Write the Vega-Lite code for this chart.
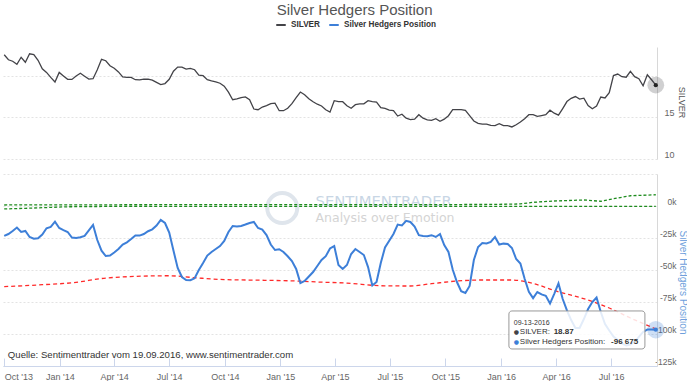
{
  "$schema": "https://vega.github.io/schema/vega-lite/v6.json",
  "background": "white",
  "padding": {"top": 3, "left": 0, "right": 0, "bottom": 0},
  "autosize": {"type": "pad"},
  "bounds": "flush",
  "title": {"text": "Silver Hedgers Position", "fontSize": 15, "font": "Liberation Sans", "fontWeight": "normal", "color": "#555555", "anchor": "middle", "frame": "bounds", "dx": 11, "offset": 1},
  "config": {
    "view": {"stroke": null},
    "font": "Liberation Sans",
    "axis": {"labelFont": "Liberation Sans", "titleFont": "Liberation Sans", "labelOverlap": false},
    "legend": {"labelFont": "Liberation Sans"}
  },
  "spacing": 15,
  "resolve": {"scale": {"color": "shared"}, "legend": {"color": "shared"}},
  "datasets": {
    "main": [
      {"d":"2013-10-01","s":22.52,"h":-23400},{"d":"2013-10-08","s":21.92,"h":-21900},{"d":"2013-10-15","s":21.74,"h":-19500},{"d":"2013-10-22","s":21.38,"h":-16800},{"d":"2013-10-29","s":22.22,"h":-20300},{"d":"2013-11-05","s":21.62,"h":-19500},{"d":"2013-11-12","s":22.64,"h":-24200},{"d":"2013-11-19","s":22.55,"h":-25500},{"d":"2013-11-26","s":21.86,"h":-25200},{"d":"2013-12-03","s":20.84,"h":-22300},{"d":"2013-12-10","s":20.40,"h":-17400},{"d":"2013-12-17","s":19.80,"h":-16400},{"d":"2013-12-24","s":19.24,"h":-12300},{"d":"2013-12-31","s":20.40,"h":-17200},
      {"d":"2014-01-07","s":19.98,"h":-18800},{"d":"2014-01-14","s":19.57,"h":-20300},{"d":"2014-01-21","s":19.56,"h":-24600},{"d":"2014-01-28","s":19.96,"h":-25000},{"d":"2014-02-04","s":20.29,"h":-24400},{"d":"2014-02-11","s":19.94,"h":-23300},{"d":"2014-02-18","s":19.60,"h":-19100},{"d":"2014-02-25","s":19.64,"h":-14800},{"d":"2014-03-04","s":20.72,"h":-26600},{"d":"2014-03-11","s":21.97,"h":-34900},{"d":"2014-03-18","s":21.80,"h":-39100},{"d":"2014-03-25","s":21.20,"h":-38700},{"d":"2014-04-01","s":20.89,"h":-36300},{"d":"2014-04-08","s":20.46,"h":-33600},{"d":"2014-04-15","s":19.86,"h":-30100},{"d":"2014-04-22","s":19.81,"h":-28400},{"d":"2014-04-29","s":19.80,"h":-25800},{"d":"2014-05-06","s":19.52,"h":-23000},{"d":"2014-05-13","s":19.51,"h":-23100},{"d":"2014-05-20","s":19.58,"h":-21900},{"d":"2014-05-27","s":19.60,"h":-19700},{"d":"2014-06-03","s":19.47,"h":-18200},{"d":"2014-06-10","s":19.20,"h":-15300},{"d":"2014-06-17","s":18.94,"h":-10900},{"d":"2014-06-24","s":19.06,"h":-13300},{"d":"2014-07-01","s":19.57,"h":-20700},{"d":"2014-07-08","s":20.54,"h":-34800},{"d":"2014-07-15","s":21.03,"h":-48400},{"d":"2014-07-22","s":21.04,"h":-55500},{"d":"2014-07-29","s":20.80,"h":-57800},{"d":"2014-08-05","s":20.88,"h":-58000},{"d":"2014-08-12","s":20.72,"h":-56500},{"d":"2014-08-19","s":20.07,"h":-50000},{"d":"2014-08-26","s":20.00,"h":-44500},{"d":"2014-09-02","s":19.52,"h":-38700},{"d":"2014-09-09","s":19.38,"h":-35900},{"d":"2014-09-16","s":19.26,"h":-33600},{"d":"2014-09-23","s":19.10,"h":-31300},{"d":"2014-09-30","s":18.75,"h":-27300},{"d":"2014-10-07","s":18.02,"h":-20300},{"d":"2014-10-14","s":17.12,"h":-15600},{"d":"2014-10-21","s":17.21,"h":-16000},{"d":"2014-10-28","s":17.38,"h":-15600},{"d":"2014-11-04","s":17.45,"h":-14500},{"d":"2014-11-11","s":17.12,"h":-13300},{"d":"2014-11-18","s":16.00,"h":-12500},{"d":"2014-11-25","s":15.92,"h":-17200},{"d":"2014-12-02","s":16.24,"h":-18400},{"d":"2014-12-09","s":16.40,"h":-22700},{"d":"2014-12-16","s":16.64,"h":-30100},{"d":"2014-12-23","s":16.70,"h":-34400},{"d":"2014-12-30","s":15.80,"h":-33800},
      {"d":"2015-01-06","s":15.80,"h":-35900},{"d":"2015-01-13","s":16.10,"h":-39300},{"d":"2015-01-20","s":16.64,"h":-43000},{"d":"2015-01-27","s":17.36,"h":-49200},{"d":"2015-02-03","s":18.04,"h":-60200},{"d":"2015-02-10","s":17.72,"h":-58600},{"d":"2015-02-17","s":17.24,"h":-55100},{"d":"2015-02-24","s":16.88,"h":-51600},{"d":"2015-03-03","s":16.58,"h":-46900},{"d":"2015-03-10","s":16.37,"h":-42200},{"d":"2015-03-17","s":15.92,"h":-39200},{"d":"2015-03-24","s":15.63,"h":-33200},{"d":"2015-03-31","s":17.00,"h":-31300},{"d":"2015-04-07","s":16.88,"h":-46100},{"d":"2015-04-14","s":16.88,"h":-49200},{"d":"2015-04-21","s":16.40,"h":-46100},{"d":"2015-04-28","s":16.10,"h":-37500},{"d":"2015-05-05","s":16.52,"h":-33600},{"d":"2015-05-12","s":16.61,"h":-35900},{"d":"2015-05-19","s":16.63,"h":-38300},{"d":"2015-05-26","s":17.00,"h":-47700},{"d":"2015-06-02","s":16.88,"h":-62100},{"d":"2015-06-09","s":16.84,"h":-59400},{"d":"2015-06-16","s":16.16,"h":-44500},{"d":"2015-06-23","s":16.07,"h":-32400},{"d":"2015-06-30","s":15.88,"h":-27100},{"d":"2015-07-07","s":15.80,"h":-21900},{"d":"2015-07-14","s":15.16,"h":-14500},{"d":"2015-07-21","s":15.38,"h":-15200},{"d":"2015-07-28","s":14.90,"h":-11600},{"d":"2015-08-04","s":14.72,"h":-12500},{"d":"2015-08-11","s":14.78,"h":-16000},{"d":"2015-08-18","s":15.32,"h":-22800},{"d":"2015-08-25","s":14.90,"h":-23400},{"d":"2015-09-01","s":14.70,"h":-23600},{"d":"2015-09-08","s":14.64,"h":-22800},{"d":"2015-09-15","s":14.84,"h":-24200},{"d":"2015-09-22","s":14.52,"h":-21900},{"d":"2015-09-29","s":14.78,"h":-30500},{"d":"2015-10-06","s":15.20,"h":-35900},{"d":"2015-10-13","s":15.92,"h":-49600},{"d":"2015-10-20","s":15.92,"h":-59400},{"d":"2015-10-27","s":15.92,"h":-66600},{"d":"2015-11-03","s":15.83,"h":-68000},{"d":"2015-11-10","s":15.20,"h":-62500},{"d":"2015-11-17","s":14.56,"h":-42200},{"d":"2015-11-24","s":14.28,"h":-32000},{"d":"2015-12-01","s":14.20,"h":-28900},{"d":"2015-12-08","s":14.20,"h":-29300},{"d":"2015-12-15","s":14.03,"h":-28100},{"d":"2015-12-22","s":14.02,"h":-24200},{"d":"2015-12-29","s":14.24,"h":-30100},
      {"d":"2016-01-05","s":14.00,"h":-29400},{"d":"2016-01-12","s":14.00,"h":-29700},{"d":"2016-01-19","s":13.85,"h":-32800},{"d":"2016-01-26","s":14.11,"h":-41400},{"d":"2016-02-02","s":14.44,"h":-44900},{"d":"2016-02-09","s":14.84,"h":-56800},{"d":"2016-02-16","s":15.32,"h":-67000},{"d":"2016-02-23","s":15.32,"h":-72000},{"d":"2016-03-01","s":15.12,"h":-67200},{"d":"2016-03-08","s":15.22,"h":-69100},{"d":"2016-03-15","s":15.32,"h":-70200},{"d":"2016-03-22","s":15.86,"h":-76200},{"d":"2016-03-29","s":15.50,"h":-68600},{"d":"2016-04-05","s":15.26,"h":-60500},{"d":"2016-04-12","s":16.06,"h":-72700},{"d":"2016-04-19","s":16.90,"h":-81600},{"d":"2016-04-26","s":17.29,"h":-89100},{"d":"2016-05-03","s":17.50,"h":-95300},{"d":"2016-05-10","s":17.20,"h":-95300},{"d":"2016-05-17","s":17.30,"h":-88300},{"d":"2016-05-24","s":16.42,"h":-80500},{"d":"2016-05-31","s":16.04,"h":-75000},{"d":"2016-06-07","s":16.37,"h":-71500},{"d":"2016-06-14","s":17.44,"h":-82800},{"d":"2016-06-21","s":17.33,"h":-92200},{"d":"2016-06-28","s":17.96,"h":-97300},{"d":"2016-07-05","s":20.02,"h":-102000},{"d":"2016-07-12","s":20.20,"h":-104700},{"d":"2016-07-19","s":19.88,"h":-107400},{"d":"2016-07-26","s":19.82,"h":-109000},{"d":"2016-08-02","s":20.53,"h":-108200},{"d":"2016-08-09","s":19.89,"h":-105900},{"d":"2016-08-16","s":19.64,"h":-102300},{"d":"2016-08-23","s":18.80,"h":-98400},{"d":"2016-08-30","s":20.12,"h":-96500},{"d":"2016-09-06","s":19.52,"h":-96500},{"d":"2016-09-13","s":18.87,"h":-96675}
    ],
    "ref": [
      {"d":"2013-10-01","k":"red","v":-63000},{"d":"2013-12-03","k":"red","v":-61500},{"d":"2014-01-21","k":"red","v":-60000},{"d":"2014-03-18","k":"red","v":-56300},{"d":"2014-05-06","k":"red","v":-55000},{"d":"2014-07-01","k":"red","v":-54500},{"d":"2014-08-12","k":"red","v":-56000},{"d":"2014-09-30","k":"red","v":-57500},{"d":"2014-12-02","k":"red","v":-58000},{"d":"2015-01-27","k":"red","v":-58600},{"d":"2015-03-10","k":"red","v":-59500},{"d":"2015-04-21","k":"red","v":-60200},{"d":"2015-06-16","k":"red","v":-62300},{"d":"2015-08-04","k":"red","v":-62500},{"d":"2015-09-08","k":"red","v":-60700},{"d":"2015-10-20","k":"red","v":-58600},{"d":"2015-12-01","k":"red","v":-57800},{"d":"2016-01-19","k":"red","v":-57800},{"d":"2016-02-23","k":"red","v":-60500},{"d":"2016-03-29","k":"red","v":-66000},{"d":"2016-05-24","k":"red","v":-73500},{"d":"2016-06-28","k":"red","v":-79700},{"d":"2016-08-02","k":"red","v":-87500},{"d":"2016-09-13","k":"red","v":-96000},
      {"d":"2013-10-01","k":"g1","v":800},{"d":"2014-06-03","k":"g1","v":1000},{"d":"2015-06-02","k":"g1","v":1000},{"d":"2015-12-15","k":"g1","v":1200},{"d":"2016-02-02","k":"g1","v":1600},{"d":"2016-02-23","k":"g1","v":2900},{"d":"2016-03-29","k":"g1","v":3900},{"d":"2016-05-17","k":"g1","v":4700},{"d":"2016-06-14","k":"g1","v":3700},{"d":"2016-07-12","k":"g1","v":6300},{"d":"2016-08-02","k":"g1","v":8000},{"d":"2016-09-13","k":"g1","v":8800},
      {"d":"2013-10-01","k":"g2","v":-2300},{"d":"2013-11-05","k":"g2","v":-1800},{"d":"2013-12-10","k":"g2","v":-1200},{"d":"2014-01-14","k":"g2","v":-600},{"d":"2014-03-25","k":"g2","v":-300},{"d":"2016-09-13","k":"g2","v":-300}
    ]
  },
  "vconcat": [
    {
      "width": 654,
      "height": 112,
      "layer": [
        {
          "data": {"name": "main"},
          "mark": {"type": "line", "strokeWidth": 1.3},
          "encoding": {
            "x": {"field": "d", "type": "temporal", "scale": {"type": "utc", "domain": [{"year": 2013, "month": 9, "date": 29, "utc": true}, {"year": 2016, "month": 9, "date": 15, "utc": true}]}, "axis": null},
            "y": {"field": "s", "type": "quantitative", "scale": {"domain": [10, 23.45], "nice": false, "zero": false},
              "axis": {"orient": "right", "values": [10, 15, 20], "tickCount": 10, "labelExpr": "datum.value == 20 ? '' : datum.label", "labelOverlap": false, "title": "SILVER", "titleFontSize": 9, "titleFontWeight": "normal", "titleColor": "#555555", "titleBaseline": "middle", "titleAngle": 90, "titleX": 24, "titleY": 55, "labelAlign": "right", "labelBaseline": "alphabetic", "labelOffset": -1.5, "labelPadding": 17, "labelFontSize": 9, "labelColor": "#666666", "ticks": false, "domain": true, "domainColor": "#d8d8d8", "grid": true, "gridColor": "#e3e3e3", "gridDash": [2, 2]}},
            "color": {"datum": "SILVER", "scale": {"domain": ["SILVER", "Silver Hedgers Position"], "range": ["#434348", "#3d7fd8"]},
              "legend": {"orient": "none", "legendX": 272, "legendY": -28, "direction": "horizontal", "title": null, "symbolType": "stroke", "symbolStrokeWidth": 2, "symbolSize": 90, "labelFontSize": 8.2, "labelFontWeight": "bold", "labelColor": "#333333", "labelOffset": 4, "columnPadding": 5}}
          }
        },
        {
          "data": {"name": "main"},
          "transform": [{"filter": "datum.h == -96675"}],
          "mark": {"type": "point", "filled": true, "size": 280, "color": "#434348", "opacity": 0.25},
          "encoding": {"x": {"field": "d", "type": "temporal"}, "y": {"field": "s", "type": "quantitative"}}
        },
        {
          "data": {"name": "main"},
          "transform": [{"filter": "datum.h == -96675"}],
          "mark": {"type": "point", "filled": true, "size": 18, "color": "#222222", "opacity": 1},
          "encoding": {"x": {"field": "d", "type": "temporal"}, "y": {"field": "s", "type": "quantitative"}}
        }
      ]
    },
    {
      "width": 654,
      "height": 192,
      "layer": [
        {
          "data": {"name": "main"},
          "mark": {"type": "line", "strokeWidth": 0, "opacity": 0},
          "encoding": {
            "x": {"field": "d", "type": "temporal", "scale": {"type": "utc", "domain": [{"year": 2013, "month": 9, "date": 29, "utc": true}, {"year": 2016, "month": 9, "date": 15, "utc": true}]},
              "axis": {"orient": "bottom", "title": null, "tickCount": 20, "values": [{"year": 2013, "month": 10, "date": 1, "utc": true}, {"year": 2014, "month": 1, "date": 1, "utc": true}, {"year": 2014, "month": 4, "date": 1, "utc": true}, {"year": 2014, "month": 7, "date": 1, "utc": true}, {"year": 2014, "month": 10, "date": 1, "utc": true}, {"year": 2015, "month": 1, "date": 1, "utc": true}, {"year": 2015, "month": 4, "date": 1, "utc": true}, {"year": 2015, "month": 7, "date": 1, "utc": true}, {"year": 2015, "month": 10, "date": 1, "utc": true}, {"year": 2016, "month": 1, "date": 1, "utc": true}, {"year": 2016, "month": 4, "date": 1, "utc": true}, {"year": 2016, "month": 7, "date": 1, "utc": true}],
                "format": "%b '%y", "labelFontSize": 9, "labelColor": "#666666", "labelFlush": 5, "labelOverlap": false, "tickColor": "#ccd6eb", "tickSize": -8, "labelPadding": 14, "domainColor": "#ccd6eb", "grid": false}},
            "y": {"field": "h", "type": "quantitative", "scale": {"domain": [-125000, 25000], "nice": false, "zero": false},
              "axis": {"orient": "right", "values": [-125000, -100000, -75000, -50000, -25000, 0, 25000], "tickCount": 10, "labelExpr": "datum.value == 25000 ? '' : (datum.value / 1000) + 'k'", "labelOverlap": false, "labelBound": false, "title": "Silver Hedgers Position", "titleFontSize": 10, "titleFontWeight": "normal", "titleColor": "#6f9fdc", "titleBaseline": "middle", "titleAngle": 90, "titleX": 25, "titleY": 108, "labelAlign": "right", "labelBaseline": "alphabetic", "labelOffset": -1.5, "labelPadding": 19, "labelFontSize": 8.5, "labelColor": "#666666", "ticks": false, "domain": true, "domainColor": "#d8d8d8", "grid": true, "gridColor": "#e3e3e3", "gridDash": [2, 2]}}
          }
        },
        {
          "data": {"values": [{}]},
          "mark": {"type": "point", "shape": "circle", "filled": false, "size": 900, "strokeWidth": 4, "color": "#dfe5ec", "opacity": 1},
          "encoding": {"x": {"datum": {"year": 2015, "month": 1, "date": 4, "utc": true}, "type": "temporal"}, "y": {"datum": -1600, "type": "quantitative"}}
        },
        {
          "data": {"values": [{}]},
          "mark": {"type": "text", "text": "SENTIMENTRADER", "font": "DejaVu Sans", "fontSize": 14.8, "color": "#c8d6e5", "align": "left", "baseline": "middle"},
          "encoding": {"x": {"datum": {"year": 2015, "month": 2, "date": 28, "utc": true}, "type": "temporal"}, "y": {"datum": 3100, "type": "quantitative"}}
        },
        {
          "data": {"values": [{}]},
          "mark": {"type": "text", "text": "Analysis over Emotion", "font": "DejaVu Sans", "fontSize": 12.5, "color": "#d4d4d4", "align": "left", "baseline": "middle"},
          "encoding": {"x": {"datum": {"year": 2015, "month": 2, "date": 28, "utc": true}, "type": "temporal"}, "y": {"datum": -9400, "type": "quantitative"}}
        },
        {
          "data": {"name": "ref"},
          "transform": [{"filter": "datum.k != 'red'"}],
          "mark": {"type": "line", "strokeWidth": 1.3, "strokeDash": [3, 2], "color": "#1e8c1e"},
          "encoding": {"x": {"field": "d", "type": "temporal"}, "y": {"field": "v", "type": "quantitative"}, "detail": {"field": "k"}}
        },
        {
          "data": {"name": "ref"},
          "transform": [{"filter": "datum.k == 'red'"}],
          "mark": {"type": "line", "strokeWidth": 1.3, "strokeDash": [4, 3], "color": "#ff2a2a", "interpolate": "monotone"},
          "encoding": {"x": {"field": "d", "type": "temporal"}, "y": {"field": "v", "type": "quantitative"}}
        },
        {
          "data": {"name": "main"},
          "mark": {"type": "line", "strokeWidth": 2},
          "encoding": {
            "x": {"field": "d", "type": "temporal"},
            "y": {"field": "h", "type": "quantitative"},
            "color": {"datum": "Silver Hedgers Position", "scale": {"domain": ["SILVER", "Silver Hedgers Position"], "range": ["#434348", "#3d7fd8"]},
              "legend": {"orient": "none", "legendX": 272, "legendY": -28, "direction": "horizontal", "title": null, "symbolType": "stroke", "symbolStrokeWidth": 2, "symbolSize": 90, "labelFontSize": 8.2, "labelFontWeight": "bold", "labelColor": "#333333", "labelOffset": 4, "columnPadding": 5}}
          }
        },
        {
          "data": {"name": "main"},
          "transform": [{"filter": "datum.h == -96675"}],
          "mark": {"type": "point", "filled": true, "size": 300, "color": "#3d7fd8", "opacity": 0.25},
          "encoding": {"x": {"field": "d", "type": "temporal"}, "y": {"field": "h", "type": "quantitative"}}
        },
        {
          "data": {"name": "main"},
          "transform": [{"filter": "datum.h == -96675"}],
          "mark": {"type": "point", "filled": true, "size": 18, "color": "#3d7fd8", "opacity": 1},
          "encoding": {"x": {"field": "d", "type": "temporal"}, "y": {"field": "h", "type": "quantitative"}}
        },
        {
          "data": {"values": [{}]},
          "mark": {"type": "rect", "fill": "white", "fillOpacity": 0.85, "stroke": "#999999", "strokeWidth": 1, "cornerRadius": 3},
          "encoding": {"x": {"datum": {"year": 2016, "month": 1, "date": 14, "utc": true}, "type": "temporal"}, "x2": {"datum": {"year": 2016, "month": 8, "date": 26, "utc": true}}, "y": {"datum": -82000, "type": "quantitative"}, "y2": {"datum": -111700}}
        },
        {
          "data": {"values": [{}]},
          "mark": {"type": "text", "text": "09-13-2016", "font": "Liberation Sans", "fontSize": 7, "color": "#333333", "align": "left", "baseline": "middle"},
          "encoding": {"x": {"datum": {"year": 2016, "month": 1, "date": 22, "utc": true}, "type": "temporal"}, "y": {"datum": -91400, "type": "quantitative"}}
        },
        {
          "data": {"values": [{}]},
          "mark": {"type": "text", "text": "●", "font": "DejaVu Sans", "fontSize": 6, "color": "#434348", "align": "left", "baseline": "middle"},
          "encoding": {"x": {"datum": {"year": 2016, "month": 1, "date": 22, "utc": true}, "type": "temporal"}, "y": {"datum": -98400, "type": "quantitative"}}
        },
        {
          "data": {"values": [{}]},
          "mark": {"type": "text", "text": "SILVER:", "font": "Liberation Sans", "fontSize": 8, "color": "#333333", "align": "left", "baseline": "middle"},
          "encoding": {"x": {"datum": {"year": 2016, "month": 2, "date": 1, "utc": true}, "type": "temporal"}, "y": {"datum": -98400, "type": "quantitative"}}
        },
        {
          "data": {"values": [{}]},
          "mark": {"type": "text", "text": "18.87", "font": "Liberation Sans", "fontSize": 8, "fontWeight": "bold", "color": "#333333", "align": "left", "baseline": "middle"},
          "encoding": {"x": {"datum": {"year": 2016, "month": 3, "date": 28, "utc": true}, "type": "temporal"}, "y": {"datum": -98400, "type": "quantitative"}}
        },
        {
          "data": {"values": [{}]},
          "mark": {"type": "text", "text": "●", "font": "DejaVu Sans", "fontSize": 6, "color": "#3d7fd8", "align": "left", "baseline": "middle"},
          "encoding": {"x": {"datum": {"year": 2016, "month": 1, "date": 22, "utc": true}, "type": "temporal"}, "y": {"datum": -106000, "type": "quantitative"}}
        },
        {
          "data": {"values": [{}]},
          "mark": {"type": "text", "text": "Silver Hedgers Position:", "font": "Liberation Sans", "fontSize": 8, "color": "#333333", "align": "left", "baseline": "middle"},
          "encoding": {"x": {"datum": {"year": 2016, "month": 2, "date": 1, "utc": true}, "type": "temporal"}, "y": {"datum": -106000, "type": "quantitative"}}
        },
        {
          "data": {"values": [{}]},
          "mark": {"type": "text", "text": "-96 675", "font": "Liberation Sans", "fontSize": 8, "fontWeight": "bold", "color": "#333333", "align": "left", "baseline": "middle"},
          "encoding": {"x": {"datum": {"year": 2016, "month": 7, "date": 1, "utc": true}, "type": "temporal"}, "y": {"datum": -106000, "type": "quantitative"}}
        },
        {
          "data": {"values": [{}]},
          "mark": {"type": "text", "text": "Quelle: Sentimenttrader vom 19.09.2016, www.sentimentrader.com", "font": "Liberation Sans", "fontSize": 9.6, "color": "#333333", "align": "left", "baseline": "middle"},
          "encoding": {"x": {"datum": {"year": 2013, "month": 10, "date": 7, "utc": true}, "type": "temporal"}, "y": {"datum": -116400, "type": "quantitative"}}
        }
      ]
    }
  ]
}
